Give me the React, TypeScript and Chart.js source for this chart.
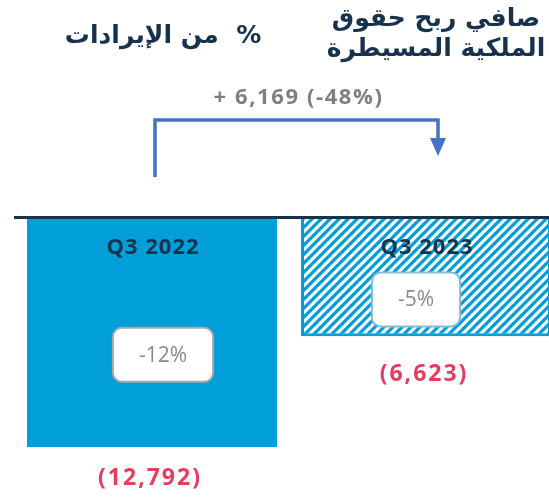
import React, { useEffect, useRef } from "react";
import Chart from "chart.js/auto";

const categories = ["Q3 2022", "Q3 2023"];
const netProfit = [-12792, -6623];
const valueLabels = ["(12,792)", "(6,623)"];
const marginLabels = ["-12%", "-5%"];
const changeLabel = "+ 6,169 (-48%)";
const titleLeft = "%  من الإيرادات";
const titleRight = ["صافي ربح حقوق", "الملكية المسيطرة"];

const BLUE = "#009fd9";
const NAVY = "#17324d";
const RED = "#e83c5c";
const GRAY = "#7f7f7f";
const ARROW = "#4472c4";
const LATIN = "'Open Sans', 'Noto Sans', sans-serif";
const ARABIC = "'DejaVu Sans', 'Noto Sans', sans-serif";

function makeHatch(): CanvasPattern | string {
  const s = 9;
  const c = document.createElement("canvas");
  c.width = s;
  c.height = s;
  const g = c.getContext("2d");
  if (!g) return BLUE;
  g.fillStyle = "#ffffff";
  g.fillRect(0, 0, s, s);
  g.strokeStyle = BLUE;
  g.lineWidth = 3.2;
  g.lineCap = "square";
  g.beginPath();
  g.moveTo(-1, s + 1);
  g.lineTo(s + 1, -1);
  g.moveTo(-1, 1);
  g.lineTo(1, -1);
  g.moveTo(s - 1, s + 1);
  g.lineTo(s + 1, s - 1);
  g.stroke();
  const p = g.createPattern(c, "repeat");
  return p || BLUE;
}

function setSpacing(ctx: CanvasRenderingContext2D, px: number) {
  (ctx as any).letterSpacing = `${px}px`;
}

const overlayPlugin = {
  id: "overlay",
  afterDatasetsDraw(chart: any) {
    const ctx = chart.ctx as CanvasRenderingContext2D;
    const meta = chart.getDatasetMeta(0);
    const y0 = chart.scales.y.getPixelForValue(0);
    const boxDx = [11, -10];
    const valDy = [31, 38];

    ctx.save();
    // zero line
    ctx.strokeStyle = NAVY;
    ctx.lineWidth = 3;
    ctx.beginPath();
    ctx.moveTo(14, y0);
    ctx.lineTo(chart.width, y0);
    ctx.stroke();

    meta.data.forEach((bar: any, i: number) => {
      const top = Math.min(bar.y, bar.base);
      const bottom = Math.max(bar.y, bar.base);
      const mid = (top + bottom) / 2;

      // category label
      ctx.fillStyle = NAVY;
      ctx.font = `bold 22px ${LATIN}`;
      ctx.textAlign = "center";
      ctx.textBaseline = "middle";
      setSpacing(ctx, 1);
      ctx.fillText(categories[i], bar.x + 1, top + 30);

      // margin box
      setSpacing(ctx, 0);
      ctx.font = `21px ${LATIN}`;
      const tw = ctx.measureText(marginLabels[i]).width;
      const bw = tw + 52;
      const bh = 54;
      const cx = bar.x + boxDx[i];
      const cy = mid + 22.5;
      ctx.beginPath();
      (ctx as any).roundRect(cx - bw / 2, cy - bh / 2, bw, bh, 9);
      ctx.fillStyle = "#ffffff";
      ctx.fill();
      ctx.lineWidth = 2;
      ctx.strokeStyle = i === 0 ? "#a8a8a8" : "#86bcd8";
      ctx.stroke();
      ctx.fillStyle = "#8a8a8a";
      ctx.fillText(marginLabels[i], cx, cy + 1);

      // value label
      ctx.fillStyle = RED;
      ctx.font = `bold 23px ${LATIN}`;
      setSpacing(ctx, 2);
      ctx.fillText(valueLabels[i], bar.x - 2, bottom + valDy[i]);
    });

    // arrow
    const a = meta.data[0];
    const b = meta.data[1];
    const xs = a.x + 3;
    const xe = b.x + 12;
    const yTop = 120;
    ctx.strokeStyle = ARROW;
    ctx.lineWidth = 3.5;
    ctx.lineCap = "butt";
    ctx.lineJoin = "miter";
    ctx.beginPath();
    ctx.moveTo(xs, 177);
    ctx.lineTo(xs, yTop);
    ctx.lineTo(xe, yTop);
    ctx.lineTo(xe, 140);
    ctx.stroke();
    ctx.fillStyle = ARROW;
    ctx.beginPath();
    ctx.moveTo(xe - 8, 138);
    ctx.lineTo(xe + 8, 138);
    ctx.lineTo(xe, 156);
    ctx.closePath();
    ctx.fill();

    // change label
    ctx.fillStyle = GRAY;
    ctx.font = `bold 22px ${LATIN}`;
    setSpacing(ctx, 1.6);
    ctx.textAlign = "center";
    ctx.fillText(changeLabel, (xs + xe) / 2 + 2, 98);

    // titles
    setSpacing(ctx, 0);
    ctx.fillStyle = NAVY;
    ctx.direction = "rtl";
    ctx.font = `bold 25px ${ARABIC}`;
    ctx.fillText(titleLeft, 163, 36);
    ctx.fillText(titleRight[0], 436, 19);
    ctx.fillText(titleRight[1], 436, 49);
    ctx.restore();
  },
};

export default function App() {
  const ref = useRef<HTMLCanvasElement | null>(null);

  useEffect(() => {
    document.body.style.margin = "0";
    const canvas = ref.current;
    if (!canvas) return;
    const hatch = makeHatch();
    const chart = new Chart(canvas, {
      type: "bar",
      data: {
        labels: categories,
        datasets: [
          {
            data: netProfit,
            backgroundColor: [BLUE, hatch as any],
            borderColor: [BLUE, BLUE],
            borderWidth: [0, 3],
            borderSkipped: "start",
            categoryPercentage: 1,
            barPercentage: 0.9124,
          },
        ],
      },
      options: {
        responsive: false,
        animation: false,
        events: [],
        layout: { padding: { left: 15, right: 0, top: 217.5, bottom: 28.3 } },
        plugins: { legend: { display: false }, tooltip: { enabled: false } },
        scales: {
          x: { display: false, offset: true, grid: { display: false } },
          y: { display: false, min: -14000, max: 0, grid: { display: false } },
        },
      },
      plugins: [overlayPlugin],
    });
    return () => chart.destroy();
  }, []);

  return (
    <div style={{ width: 549, height: 497, overflow: "hidden", background: "#fff" }}>
      <canvas ref={ref} width={563} height={497} style={{ display: "block" }} />
    </div>
  );
}
